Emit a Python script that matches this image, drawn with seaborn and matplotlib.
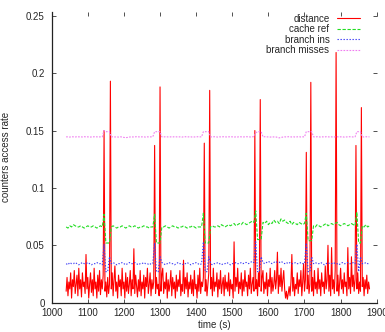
import numpy as np
import pandas as pd
import matplotlib
matplotlib.use("Agg")
import matplotlib.pyplot as plt
import seaborn as sns

# distance is sampled every 2.5 s, the counters every 5 s
time_dist = [1040 + 2.5 * i for i in range(337)]
time_cnt = list(range(1040, 1881, 5))

distance = [
    0.010, 0.022, 0.006, 0.018, 0.012, 0.026, 0.004, 0.020, 0.014, 0.028,
    0.008, 0.016, 0.024, 0.006, 0.030, 0.012, 0.020, 0.005, 0.026, 0.014,
    0.018, 0.008, 0.042, 0.012, 0.022, 0.004, 0.016, 0.026, 0.009, 0.020,
    0.006, 0.030, 0.012, 0.018, 0.004, 0.024, 0.010, 0.028, 0.007, 0.020,
    0.012, 0.024, 0.150, 0.010, 0.018, 0.005, 0.022, 0.008, 0.016, 0.193,
    0.012, 0.026, 0.006, 0.020, 0.032, 0.010, 0.018, 0.004, 0.024, 0.014,
    0.020, 0.006, 0.030, 0.012, 0.018, 0.004, 0.026, 0.010, 0.022, 0.008,
    0.016, 0.028, 0.006, 0.020, 0.012, 0.047, 0.008, 0.024, 0.014, 0.005,
    0.020, 0.010, 0.028, 0.006, 0.018, 0.012, 0.024, 0.004, 0.022, 0.014,
    0.030, 0.008, 0.016, 0.026, 0.006, 0.020, 0.012, 0.018, 0.137, 0.008,
    0.022, 0.012, 0.016, 0.006, 0.188, 0.010, 0.024, 0.030, 0.008, 0.018,
    0.012, 0.026, 0.004, 0.020, 0.010, 0.016, 0.028, 0.006, 0.022, 0.012,
    0.018, 0.004, 0.024, 0.010, 0.020, 0.014, 0.028, 0.006, 0.016, 0.010,
    0.037, 0.008, 0.022, 0.012, 0.026, 0.005, 0.018, 0.012, 0.024, 0.008,
    0.020, 0.006, 0.028, 0.012, 0.016, 0.004, 0.024, 0.010, 0.030, 0.008,
    0.018, 0.014, 0.022, 0.139, 0.010, 0.020, 0.006, 0.016, 0.026, 0.185,
    0.012, 0.022, 0.006, 0.030, 0.010, 0.018, 0.014, 0.026, 0.005, 0.020,
    0.012, 0.028, 0.008, 0.016, 0.022, 0.006, 0.024, 0.012, 0.018, 0.010,
    0.026, 0.006, 0.020, 0.012, 0.016, 0.004, 0.053, 0.010, 0.022, 0.014,
    0.030, 0.008, 0.018, 0.012, 0.026, 0.006, 0.020, 0.010, 0.028, 0.014,
    0.018, 0.006, 0.024, 0.012, 0.030, 0.008, 0.016, 0.022, 0.010, 0.150,
    0.012, 0.020, 0.006, 0.026, 0.014, 0.177, 0.010, 0.022, 0.028, 0.008,
    0.018, 0.012, 0.026, 0.006, 0.020, 0.014, 0.030, 0.008, 0.022, 0.010,
    0.016, 0.028, 0.012, 0.020, 0.044, 0.008, 0.024, 0.014, 0.030, 0.010,
    0.020, 0.028, 0.012, 0.004, 0.010, 0.003, 0.008, 0.014, 0.006, 0.018,
    0.042, 0.010, 0.022, 0.006, 0.016, 0.012, 0.026, 0.008, 0.020, 0.014,
    0.028, 0.006, 0.018, 0.034, 0.010, 0.020, 0.131, 0.012, 0.024, 0.008,
    0.016, 0.192, 0.010, 0.022, 0.006, 0.028, 0.012, 0.018, 0.008, 0.030,
    0.012, 0.020, 0.006, 0.026, 0.014, 0.018, 0.008, 0.032, 0.012, 0.020,
    0.050, 0.010, 0.024, 0.006, 0.048, 0.012, 0.020, 0.008, 0.028, 0.218,
    0.010, 0.024, 0.006, 0.018, 0.030, 0.012, 0.020, 0.008, 0.026, 0.014,
    0.018, 0.006, 0.048, 0.012, 0.022, 0.008, 0.040, 0.014, 0.024, 0.010,
    0.020, 0.137, 0.012, 0.026, 0.008, 0.018, 0.010, 0.170, 0.014, 0.022,
    0.006, 0.020, 0.012, 0.024, 0.008, 0.018, 0.012,
]

cache_ref = [
    0.066, 0.065, 0.067, 0.066, 0.068, 0.067, 0.066, 0.066, 0.067, 0.066,
    0.065, 0.066, 0.067, 0.066, 0.066, 0.067, 0.066, 0.065, 0.066, 0.067,
    0.066,
    0.077, 0.052, 0.052, 0.052,
    0.066, 0.067, 0.066, 0.065, 0.066, 0.066, 0.067, 0.066, 0.065, 0.066,
    0.067, 0.066, 0.066, 0.067, 0.066, 0.065, 0.066, 0.066, 0.067, 0.066,
    0.066, 0.065, 0.066, 0.066,
    0.077, 0.052, 0.052, 0.052,
    0.066, 0.066, 0.067, 0.066, 0.065, 0.066, 0.067, 0.066, 0.066, 0.065,
    0.066, 0.066, 0.067, 0.066, 0.065, 0.066, 0.066, 0.067, 0.066, 0.065,
    0.066, 0.066, 0.066,
    0.078, 0.052, 0.052, 0.052,
    0.066, 0.067, 0.066, 0.066, 0.067, 0.066, 0.068, 0.067, 0.066, 0.067,
    0.068, 0.067, 0.068, 0.069, 0.067, 0.068, 0.069, 0.068, 0.070, 0.069,
    0.068, 0.069, 0.070, 0.071, 0.070,
    0.080, 0.055, 0.055, 0.055,
    0.070, 0.069, 0.071, 0.068, 0.070, 0.069, 0.072, 0.070, 0.071, 0.069,
    0.073, 0.071, 0.072, 0.070, 0.069, 0.071, 0.068, 0.070, 0.069, 0.068,
    0.070, 0.069, 0.068, 0.069,
    0.078, 0.054, 0.054, 0.054,
    0.067, 0.066, 0.068, 0.067, 0.066, 0.067, 0.068, 0.069, 0.067, 0.068,
    0.069, 0.068, 0.069, 0.070, 0.068, 0.067, 0.068, 0.069, 0.068, 0.067,
    0.068, 0.069, 0.068, 0.067,
    0.079, 0.052, 0.052,
    0.067, 0.066, 0.068, 0.066, 0.067,
]

branch_ins = [
    0.034, 0.033, 0.035, 0.034, 0.034, 0.035, 0.034, 0.033, 0.034, 0.035,
    0.034, 0.034, 0.035, 0.034, 0.033, 0.034, 0.034, 0.035, 0.034, 0.034,
    0.033,
    0.051, 0.027, 0.027, 0.040,
    0.034, 0.035, 0.034, 0.033, 0.034, 0.034, 0.035, 0.034, 0.033, 0.034,
    0.035, 0.034, 0.034, 0.035, 0.034, 0.033, 0.034, 0.034, 0.035, 0.034,
    0.034, 0.033, 0.034, 0.034,
    0.052, 0.027, 0.027, 0.040,
    0.035, 0.034, 0.033, 0.034, 0.035, 0.034, 0.034, 0.033, 0.034, 0.035,
    0.034, 0.034, 0.033, 0.034, 0.035, 0.034, 0.033, 0.034, 0.034, 0.035,
    0.034, 0.033, 0.034,
    0.053, 0.027, 0.027, 0.040,
    0.034, 0.033, 0.034, 0.034, 0.035, 0.034, 0.033, 0.034, 0.034, 0.035,
    0.034, 0.033, 0.034, 0.034, 0.035, 0.034, 0.034, 0.035, 0.034, 0.035,
    0.035, 0.034, 0.035, 0.036, 0.035,
    0.053, 0.027, 0.027, 0.040,
    0.035, 0.034, 0.035, 0.036, 0.035, 0.034, 0.035, 0.036, 0.035, 0.035,
    0.036, 0.035, 0.034, 0.035, 0.034, 0.035, 0.034, 0.034, 0.035, 0.034,
    0.034, 0.035, 0.034, 0.034,
    0.052, 0.027, 0.027, 0.040,
    0.034, 0.035, 0.034, 0.034, 0.035, 0.034, 0.033, 0.034, 0.035, 0.034,
    0.034, 0.035, 0.034, 0.034, 0.033, 0.034, 0.035, 0.034, 0.034, 0.035,
    0.034, 0.034, 0.035, 0.034,
    0.051, 0.027, 0.040,
    0.034, 0.034, 0.035, 0.034, 0.034,
]

branch_misses = [
    0.1445, 0.1445, 0.1443, 0.1446, 0.1445, 0.1444, 0.1446, 0.1445, 0.1445, 0.1444,
    0.1446, 0.1445, 0.1445, 0.1443, 0.1444, 0.1445, 0.1446, 0.1445, 0.1444, 0.1445,
    0.1445,
    0.150, 0.149, 0.149, 0.149,
    0.1445, 0.1446, 0.1444, 0.1445, 0.1443, 0.1445, 0.1444, 0.1440, 0.1438, 0.1440,
    0.1443, 0.1445, 0.1444, 0.1445, 0.1446, 0.1445, 0.1444, 0.1445, 0.1445, 0.1443,
    0.1445, 0.1444, 0.1445, 0.1446,
    0.149, 0.149, 0.149, 0.149,
    0.1445, 0.1444, 0.1446, 0.1445, 0.1443, 0.1445, 0.1444, 0.1446, 0.1445, 0.1444,
    0.1445, 0.1443, 0.1445, 0.1446, 0.1444, 0.1445, 0.1445, 0.1443, 0.1444, 0.1445,
    0.1446, 0.1445, 0.1445,
    0.149, 0.149, 0.149, 0.149,
    0.1445, 0.1444, 0.1446, 0.1445, 0.1443, 0.1445, 0.1444, 0.1446, 0.1445, 0.1444,
    0.1445, 0.1446, 0.1445, 0.1443, 0.1445, 0.1444, 0.1446, 0.1445, 0.1444, 0.1445,
    0.1446, 0.1445, 0.1444, 0.1445, 0.1447,
    0.148, 0.149, 0.149, 0.149,
    0.1445, 0.1446, 0.1444, 0.1445, 0.1443, 0.1445, 0.1444, 0.1445, 0.1440, 0.1436,
    0.1440, 0.1443, 0.1445, 0.1444, 0.1446, 0.1445, 0.1444, 0.1445, 0.1443, 0.1445,
    0.1446, 0.1444, 0.1445, 0.1445,
    0.149, 0.149, 0.149, 0.149,
    0.1445, 0.1444, 0.1446, 0.1445, 0.1443, 0.1445, 0.1444, 0.1446, 0.1445, 0.1444,
    0.1445, 0.1443, 0.1445, 0.1446, 0.1444, 0.1445, 0.1445, 0.1443, 0.1444, 0.1445,
    0.1446, 0.1445, 0.1444, 0.1445,
    0.149, 0.149, 0.149,
    0.1445, 0.1444, 0.1446, 0.1445, 0.1445,
]

x_ticks = list(range(1000, 1901, 100))
y_ticks = [0, 0.05, 0.1, 0.15, 0.2, 0.25]
y_tick_labels = ["0", "0.05", "0.1", "0.15", "0.2", "0.25"]

dist_df = pd.DataFrame({"time": time_dist, "distance": distance})
cnt_df = pd.DataFrame({
    "time": time_cnt,
    "cache ref": cache_ref,
    "branch ins": branch_ins,
    "branch misses": branch_misses,
})

sns.set_style("ticks")
plt.rcParams["font.family"] = ["Liberation Sans", "DejaVu Sans"]

fig = plt.figure(figsize=(3.85, 3.32), dpi=100)
ax = fig.add_axes([0.1343, 0.0883, 0.8442, 0.877])

sns.lineplot(data=dist_df, x="time", y="distance", color="#ff0000",
             lw=0.8, label="distance", ax=ax)

styles = {
    "cache ref": ("#22dd22", (3, 1.5)),
    "branch ins": ("#3a3af5", (1.2, 1.5)),
    "branch misses": ("#f07cf0", (1.5, 1.2)),
}
for name, (col, dash) in styles.items():
    sns.lineplot(data=cnt_df, x="time", y=name, color=col, lw=0.8,
                 label=name, ax=ax)
    ax.lines[-1].set_dashes(dash)

ax.set_xlim(1000, 1900)
ax.set_ylim(0, 0.2537)
ax.set_xticks(x_ticks)
ax.set_yticks(y_ticks)
ax.set_yticklabels(y_tick_labels)
ax.set_xlabel("time (s)", fontsize=7, labelpad=1)
ax.set_ylabel("counters access rate", fontsize=7, labelpad=11)
ax.tick_params(direction="in", length=3, width=0.6, labelsize=7,
               top=True, right=True, color="#333333")
ax.tick_params(axis="x", pad=4)
ax.tick_params(axis="y", pad=5)
sns.despine(ax=ax, top=True, right=True)
for s in ["left", "bottom"]:
    ax.spines[s].set_linewidth(0.9)
    ax.spines[s].set_color("#222222")

leg = ax.legend(loc="upper right", bbox_to_anchor=(0.968, 1.012), frameon=False,
                markerfirst=False, fontsize=7, handlelength=2.4,
                labelspacing=0.05, handletextpad=0.8, borderaxespad=0.2)

# right-align the legend rows (gnuplot style: label then sample)
for column in leg._legend_handle_box.get_children():
    column.align = "right"

fig.savefig("out.png", dpi=100)
